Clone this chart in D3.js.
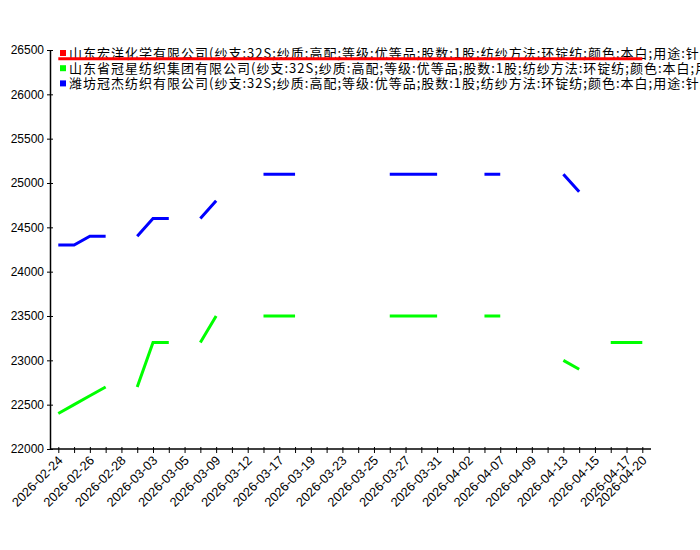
<!DOCTYPE html>
<html>
  <head>
    <meta charset="utf-8">
    <script src="https://d3js.org/d3.v7.min.js"></script>
    <style>
      body { margin: 0; background: #fff; overflow: hidden; }
      text { font-family: "Liberation Sans", Arial, sans-serif; }
      .legend text { font-family: "Noto Sans CJK SC", sans-serif; letter-spacing: 1px; }
    </style>
  </head>
  <body>
    <div id="chart"></div>
    <script>
// categories (trading days)
const dates = [
  "2026-02-24","2026-02-25","2026-02-26","2026-02-27","2026-02-28","2026-03-02",
  "2026-03-03","2026-03-04","2026-03-05","2026-03-06","2026-03-09","2026-03-10",
  "2026-03-12","2026-03-16","2026-03-17","2026-03-18","2026-03-19","2026-03-20",
  "2026-03-23","2026-03-24","2026-03-25","2026-03-26","2026-03-27","2026-03-30",
  "2026-03-31","2026-04-01","2026-04-02","2026-04-03","2026-04-07","2026-04-08",
  "2026-04-09","2026-04-10","2026-04-13","2026-04-14","2026-04-15","2026-04-16",
  "2026-04-17","2026-04-20"
];

const seriesNames = [
  "山东宏洋化学有限公司(纱支:32S;纱质:高配;等级:优等品;股数:1股;纺纱方法:环锭纺;颜色:本白;用途:针织用纱)",
  "山东省冠星纺织集团有限公司(纱支:32S;纱质:高配;等级:优等品;股数:1股;纺纱方法:环锭纺;颜色:本白;用途:针织用纱)",
  "潍坊冠杰纺织有限公司(纱支:32S;纱质:高配;等级:优等品;股数:1股;纺纱方法:环锭纺;颜色:本白;用途:针织用纱)"
];
const seriesColors = ["#ff0000", "#00ff00", "#0000ff"];

const _ = null;
const hongyang = [
  26400,26400,26400,26400,26400,26400,26400,26400,26400,26400,26400,26400,
  26400,26400,26400,26400,26400,26400,26400,26400,26400,26400,26400,26400,
  26400,26400,26400,26400,26400,26400,26400,26400,26400,26400,26400,26400,
  26400,26400
];
const guanxing = [
  22400,22500,22600,22700,_,22700,23200,23200,_,23200,23500,_,
  _,23500,23500,23500,_,_,_,_,_,23500,23500,23500,
  23500,_,_,23500,23500,_,_,_,23000,22900,_,23200,
  23200,23200
];
const guanjie = [
  24300,24300,24400,24400,_,24400,24600,24600,_,24600,24800,_,
  _,25100,25100,25100,_,_,_,_,_,25100,25100,25100,
  25100,_,_,25100,25100,_,_,_,25100,24900,_,_,
  _,_
];
const series = [hongyang, guanxing, guanjie];

const yTicks = [22000,22500,23000,23500,24000,24500,25000,25500,26000,26500];

const width = 700;
const height = 550;
const plotLeft = 50;
const plotRight = 651;
const plotTop = 50;
const plotBottom = 449;

const x = d3.scalePoint()
  .domain(dates)
  .range([58.3, 642.3]);

const y = d3.scaleLinear()
  .domain([22000, 26500])
  .range([plotBottom, plotTop]);

const svg = d3.select("#chart").append("svg")
  .attr("width", width)
  .attr("height", height)
  .attr("viewBox", [0, 0, width, height]);

// Y axis
const yAxis = svg.append("g")
  .attr("transform", `translate(${plotLeft},0)`)
  .call(d3.axisLeft(y).tickValues(yTicks).tickFormat(d3.format("d"))
    .tickSize(3).tickPadding(3).tickSizeOuter(0));
yAxis.selectAll(".tick line").attr("x2", -3).attr("x1", 3);
yAxis.select(".domain").attr("stroke-width", 1.5);
yAxis.selectAll(".tick text").style("font-size", "12px").attr("fill", "#000");

// X axis
const xAxis = svg.append("g")
  .attr("transform", `translate(0,${plotBottom})`)
  .call(d3.axisBottom(x).tickSize(4).tickSizeOuter(0).tickFormat(""));
xAxis.select(".domain").attr("d", `M${plotLeft},0H${plotRight}`).attr("stroke-width", 1.5);
xAxis.selectAll(".tick line").attr("y1", -2).attr("y2", 4);

const labelled = dates.filter((d, i) => i % 2 === 0 || i === dates.length - 1);
svg.append("g")
  .selectAll("text")
  .data(labelled)
  .join("text")
  .attr("transform", d => `translate(${x(d) + 2},${plotBottom + 9}) rotate(-45)`)
  .attr("text-anchor", "end")
  .attr("dy", "0.35em")
  .style("font-size", "12.8px")
  .text(d => d);

// Legend
const legend = svg.append("g").attr("class", "legend");
seriesNames.forEach((name, i) => {
  const cy = 53 + i * 15.2;
  legend.append("rect")
    .attr("x", 60).attr("y", cy - 3).attr("width", 6).attr("height", 6)
    .attr("fill", seriesColors[i]);
  legend.append("text")
    .attr("x", 69).attr("y", cy)
    .attr("dy", "0.35em")
    .style("font-size", "13px")
    .text(name);
});

// Lines
const line = d3.line()
  .defined(d => d.v != null)
  .x(d => x(d.date))
  .y(d => y(d.v));

series.forEach((vals, i) => {
  svg.append("path")
    .datum(vals.map((v, j) => ({ date: dates[j], v })))
    .attr("fill", "none")
    .attr("stroke", seriesColors[i])
    .attr("stroke-width", 3)
    .attr("d", line);
});
    </script>
  </body>
</html>
